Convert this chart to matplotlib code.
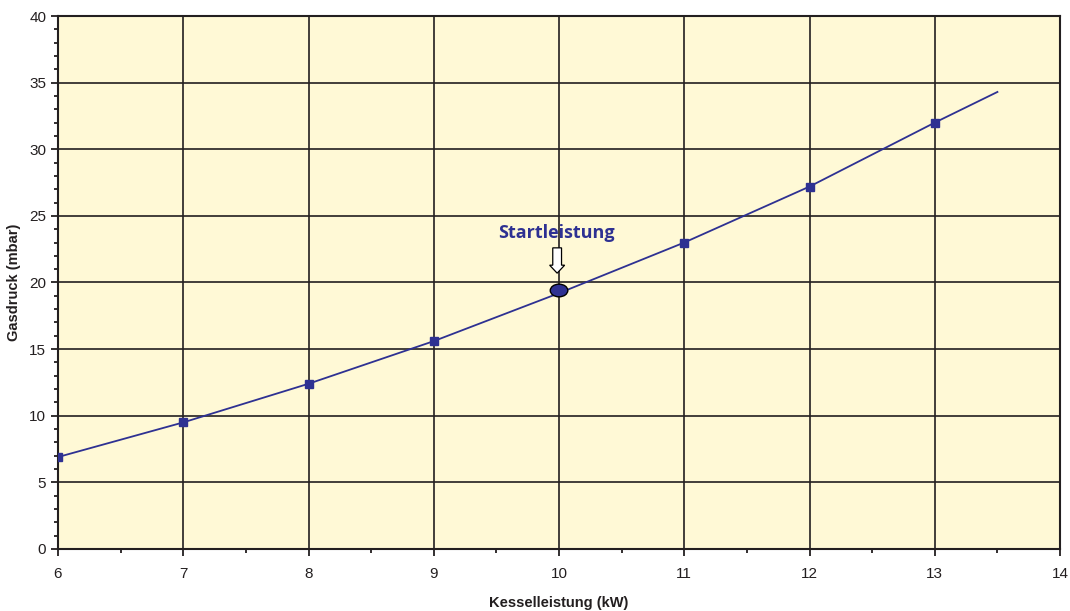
import matplotlib
matplotlib.use("Agg")
import matplotlib.pyplot as plt
from matplotlib.patches import Ellipse, FancyArrow
from matplotlib.ticker import MultipleLocator

# --- Data ---
kw_line = [6, 7, 8, 9, 10, 11, 12, 13, 13.5]
mbar_line = [6.9, 9.5, 12.4, 15.6, 19.2, 23.0, 27.2, 32.0, 34.3]
kw_marks = [6, 7, 8, 9, 11, 12, 13]
mbar_marks = [6.9, 9.5, 12.4, 15.6, 23.0, 27.2, 32.0]
start_kw = 10
start_mbar = 19.4

navy = "#2e3192"
plt.rcParams["font.family"] = ["Liberation Sans", "DejaVu Sans"]

fig = plt.figure(figsize=(10.7, 6.11), dpi=100)
ax = fig.add_axes([0.0542, 0.1015, 0.9365, 0.8723])
ax.set_facecolor("#fff9d6")

ax.plot(kw_line, mbar_line, color=navy, lw=1.3, zorder=3)
ax.plot(kw_marks, mbar_marks, ls="none", marker="s", ms=6, color=navy, zorder=4)

ax.add_patch(Ellipse((start_kw, start_mbar), 0.14, 0.95, facecolor=navy,
                     edgecolor="black", lw=1, zorder=5))
ax.add_patch(FancyArrow(start_kw - 0.015, 22.6, 0, -1.3, width=0.07, head_width=0.12,
                        head_length=0.6, length_includes_head=False,
                        facecolor="white", edgecolor="black", lw=0.9, zorder=5))
ax.text(start_kw - 0.02, 23.7, "Startleistung", color=navy, fontsize=13,
        fontweight="bold", family=["Open Sans", "DejaVu Sans"],
        ha="center", va="center", zorder=6)

# --- Axes ---
ax.set_xlim(6, 14)
ax.set_ylim(0, 40)
ax.xaxis.set_major_locator(MultipleLocator(1))
ax.xaxis.set_minor_locator(MultipleLocator(0.5))
ax.yaxis.set_major_locator(MultipleLocator(5))
ax.yaxis.set_minor_locator(MultipleLocator(1))
ax.grid(which="major", color="#231f20", lw=1.2)
ax.set_axisbelow(True)
for s in ax.spines.values():
    s.set_color("#231f20")
    s.set_linewidth(1.5)
ax.tick_params(which="major", length=5, width=1.3, color="#231f20", labelsize=11,
               labelcolor="#231f20")
ax.tick_params(which="minor", length=3, width=1.3, color="#231f20")
ax.tick_params(axis="x", pad=8)

ax.set_xlabel("Kesselleistung (kW)", fontsize=10.5, fontweight="bold", labelpad=11,
              color="#231f20")
ax.set_ylabel("Gasdruck (mbar)", fontsize=10.5, fontweight="bold", labelpad=6,
              color="#231f20")

fig.savefig("out.png", dpi=100)
